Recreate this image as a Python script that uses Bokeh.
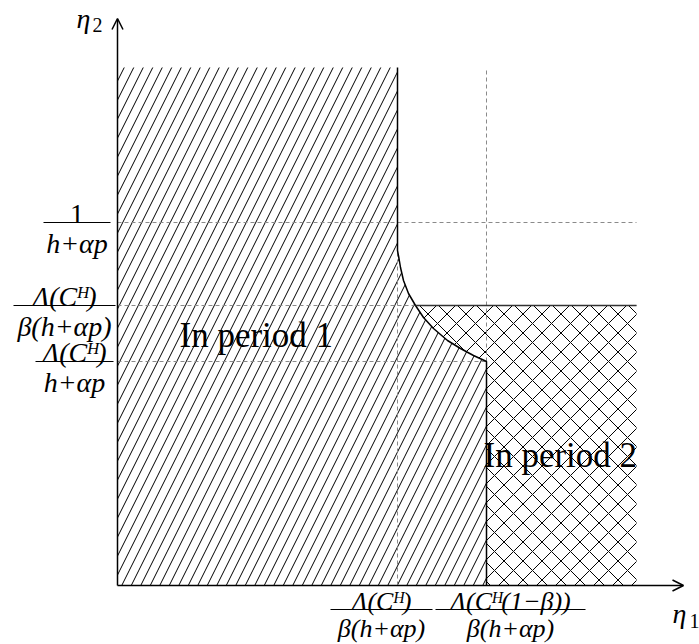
from bokeh.plotting import figure
from bokeh.models import Range1d, Arrow, OpenHead, Label
from bokeh.embed import file_html
from bokeh.resources import INLINE

# ---------------- data (arbitrary units) ----------------
x_ticks = [2.80, 3.69]
y_ticks = [3.63, 2.80, 2.24]
x_num = ["Λ(Cᴴ)", "Λ(Cᴴ(1−β))"]
x_den = ["β(h+αp)", "β(h+αp)"]
y_num = ["1", "Λ(Cᴴ)", "Λ(Cᴴ)"]
y_den = ["h+αp", "β(h+αp)", "h+αp"]

eta1_max = 5.19   # right edge of the period-2 region
eta2_max = 5.18   # top edge of the period-1 region
axis_x_end = 5.66
axis_y_end = 5.67

# boundary curve between the regions
curve_x = [2.80, 2.80, 2.815, 2.83, 2.86, 2.91, 2.98, 3.06, 3.16, 3.30, 3.43, 3.56, 3.69]
curve_y = [3.53, 3.35, 3.27, 3.18, 3.05, 2.92, 2.80, 2.68, 2.57, 2.45, 2.37, 2.30, 2.24]

region_labels = ["In period 1", "In period 2"]

# ---------------- layout helpers (1 data unit = 100 px) ----------------
OX, OY = 117, 585          # page pixel of the origin
def px(dx):  # pixel distance -> data distance
    return dx / 100.0

W, H = 699, 644
p = figure(width=W, height=H, output_backend="svg", toolbar_location=None,
           x_range=Range1d(px(0 - OX), px(W - OX)),
           y_range=Range1d(px(OY - H), px(OY)),
           min_border=0)
p.axis.visible = False
p.xgrid.visible = False
p.ygrid.visible = False
p.outline_line_color = None
p.background_fill_color = "white"
p.border_fill_color = "white"

HATCH = 19

# region 1 (north-east lines)
r1x = [0, 0, curve_x[0]] + curve_x + [x_ticks[1]]
r1y = [0, eta2_max, eta2_max] + curve_y + [0]
p.patch(r1x, r1y, fill_alpha=0, line_color=None, hatch_pattern="/",
        hatch_color="black", hatch_weight=1, hatch_scale=HATCH)

# region 2 (crosshatch)
k = curve_y.index(y_ticks[1])
r2x = curve_x[k:] + [x_ticks[1], eta1_max, eta1_max]
r2y = curve_y[k:] + [0, 0, y_ticks[1]]
p.patch(r2x, r2y, fill_alpha=0, line_color=None, hatch_pattern="x",
        hatch_color="black", hatch_weight=1, hatch_scale=HATCH)

# dashed guide lines
dash = dict(line_color="#8a8a8a", line_width=1, line_dash="4 3")
p.line([0, eta1_max], [y_ticks[0]] * 2, **dash)
p.line([0, eta1_max], [y_ticks[1]] * 2, **dash)
p.line([0, x_ticks[1]], [y_ticks[2]] * 2, **dash)
p.line([x_ticks[0]] * 2, [0, eta2_max], **dash)
p.line([x_ticks[1]] * 2, [0, eta2_max], **dash)

# solid boundaries
p.line([curve_x[0]] + curve_x + [x_ticks[1]], [eta2_max] + curve_y + [0],
       line_color="black", line_width=1.5)
p.line([curve_x[k], eta1_max], [y_ticks[1]] * 2, line_color="#333333", line_width=1.5)

# axes with arrow heads
for xe, ye in [(axis_x_end, 0), (0, axis_y_end)]:
    p.add_layout(Arrow(end=OpenHead(size=11, line_width=1.5, line_color="black"),
                       x_start=0, y_start=0, x_end=xe, y_end=ye,
                       line_color="black", line_width=1.5))

SERIF = "Liberation Serif"
MATH_SIZE = "28px"

def lab(x, y, text, align="center", size=MATH_SIZE, style="italic", baseline="alphabetic"):
    p.add_layout(Label(x=x, y=y, text=text, text_align=align, text_baseline=baseline,
                       text_font=SERIF, text_font_size=size, text_font_style=style,
                       text_color="black"))

def fraction(cx, by, width, num, den, size=MATH_SIZE, dn=9, dd=21):
    # cx, by in data units (centre, bar level); width in px
    p.segment(x0=[cx - px(width / 2)], y0=[by], x1=[cx + px(width / 2)], y1=[by],
              line_color="black", line_width=1.2)
    lab(cx, by + px(dn), num, size=size, style="normal" if num.isdigit() else "italic")
    lab(cx, by - px(dd), den, size=size)

# y tick labels: (centre offset from axis in px, bar width px)
y_layout = [(-40.5, 67), (-53, 102), (-43, 78)]
for t, n, d, (off, w) in zip(y_ticks, y_num, y_den, y_layout):
    fraction(px(off), t, w, n, d)

# x tick labels: (centre offset from tick in px, bar width px)
x_layout = [(-16, 102), (24, 150)]
for t, n, d, (off, w) in zip(x_ticks, x_num, x_den, x_layout):
    fraction(t + px(off), -px(24), w, n, d, size="26px", dn=8, dd=19)

# axis names
lab(px(76 - OX), px(OY - 18), "η", align="left")
lab(px(92 - OX), px(OY - 24), "2", align="left", size="20px", style="normal")
lab(px(672 - OX), px(OY - 613), "η", align="left")
lab(px(689 - OX), px(OY - 620), "1", align="left", size="20px", style="normal")

# region labels
lab(px(179 - OX), px(OY - 335), region_labels[0], align="left", size="35px", style="normal")
lab(px(483 - OX), px(OY - 455), region_labels[1], align="left", size="35px", style="normal")

open("out.html", "w").write(file_html(p, INLINE))
